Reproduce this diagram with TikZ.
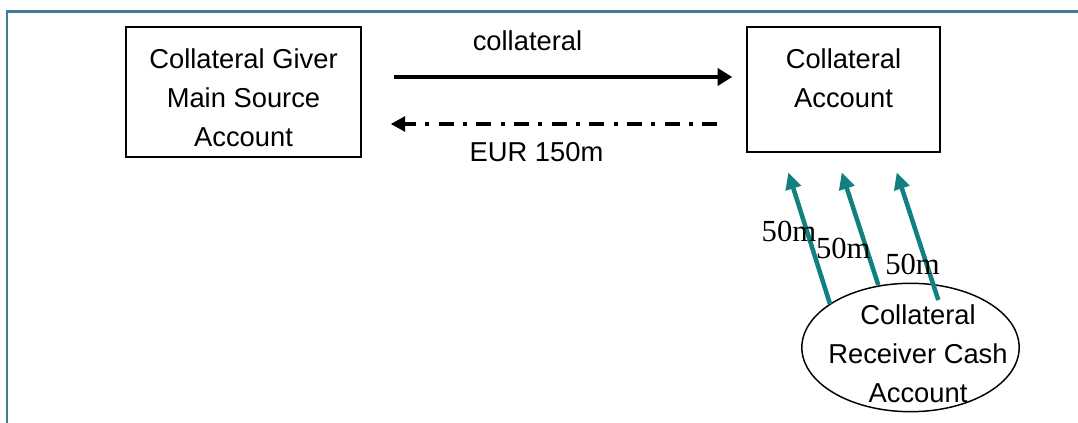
\documentclass[tikz,border=0pt]{standalone}
\usepackage{fontspec}
\setmainfont{Liberation Sans}
\newfontfamily\amtfont{Liberation Serif}
\usepackage{tikz}
\usetikzlibrary{arrows.meta,shapes.geometric}
\definecolor{framecol}{RGB}{65,125,155}
\definecolor{payteal}{RGB}{16,128,128}

\begin{document}
\begin{tikzpicture}[x=0.75pt,y=-0.75pt,
                    acct/.style={draw,line width=1.1pt,minimum width=176pt,minimum height=97.5pt},
                    lbl/.style={align=center,inner sep=0pt,font=\fontsize{20.5}{29.25}\selectfont},
                    amt/.style={inner sep=0pt,font=\amtfont\fontsize{23}{23}\selectfont},
                    pay/.style={payteal,line width=3.4pt,-{Triangle[length=12.5pt,width=11.5pt]}}]
                    \useasboundingbox (0,0) rectangle (1078,423);
                    \draw [framecol,line width=1.9pt] (7.2,423) -- (7.2,11.5) -- (1078,11.5);
                    % accounts
                    \node [acct] (giver) at (243.5,92) {};
                    \node [lbl] (giverlbl) at (243.5,97.5) {Collateral Giver\\Main Source\\Account};
                    \node [acct,minimum width=144.75pt,minimum height=93.75pt] (coll) at (843.5,89.5) {};
                    \node [lbl] (colllbl) at (843.5,78) {Collateral\\Account};
                    \node [draw,ellipse,line width=1.1pt,minimum width=163pt,minimum height=96.3pt,inner sep=0pt] (cash) at (910.5,347.5) {};
                    \node [lbl] (cashlbl) at (918,353.5) {Collateral\\Receiver Cash\\Account};
                    % flows
                    \draw [line width=3.5pt,-{Triangle[length=11pt,width=12.75pt]}] ([shift={(32,-15)}]giver.east) -- ([shift={(-14,-12.5)}]coll.west);
                    \node [lbl] (collatlbl) at (527.5,41) {collateral};
                    \draw [line width=3pt,dash pattern=on 11.25pt off 7pt on 3pt off 7pt,-{Triangle[length=11pt,width=11pt]}] ([shift={(-29,34.5)}]coll.west) -- ([shift={(29,32)}]giver.east);
                    \node [lbl] (eurlbl) at (536.5,152.5) {EUR 150m};
                    \draw [pay] ([shift={(-80.5,-43.5)}]cash.center) -- ([shift={(-55.2,19.7)}]coll.south);
                    \draw [pay] ([shift={(-32.2,-62.5)}]cash.center) -- ([shift={(-1.8,19.7)}]coll.south);
                    \draw [pay] ([shift={(27.8,-47.5)}]cash.center) -- ([shift={(53.2,19.7)}]coll.south);
                    \node [amt] (amt1) at (789,231) {50m};
                    \node [amt] (amt2) at (843.3,248) {50m};
                    \node [amt] (amt3) at (912.5,264.5) {50m};
                \end{tikzpicture}
\end{document}
